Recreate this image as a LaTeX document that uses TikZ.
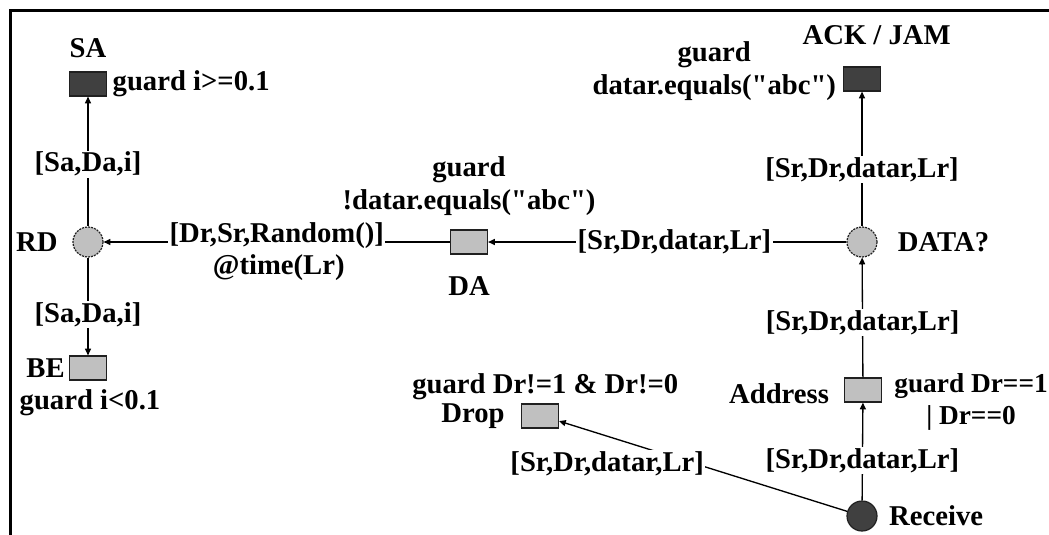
\documentclass[tikz,border=0pt]{standalone}
\usepackage{fontspec}
\newfontfamily\petrifont{Liberation Serif}
\usepackage{tikz}
\usetikzlibrary{positioning,arrows.meta}
\definecolor{petri-dark}{HTML}{404040}
\definecolor{petri-grey}{HTML}{C0C0C0}
\definecolor{petri-line}{HTML}{202020}

\begin{document}
\begin{tikzpicture}[
  x=0.75pt, y=-0.75pt,
  font=\petrifont\fontsize{21.5}{25}\selectfont\bfseries,
  every node/.style={align=center, inner sep=1pt},
  trans/.style={rectangle, draw=petri-line, line width=0.9pt, minimum width=27.75pt, minimum height=18pt, inner sep=0pt, fill=petri-grey},
  dtrans/.style={trans, fill=petri-dark},
  place/.style={circle, draw=petri-line, dash pattern=on 1.5pt off 0.8pt, line width=0.9pt, minimum size=22.5pt, inner sep=0pt, fill=petri-grey},
  dplace/.style={place, solid, fill=petri-dark},
  arc/.style={-{Triangle[length=5pt,width=4.5pt]}, line width=1pt, black},
  inscr/.style={fill=white, inner sep=1pt}
]
  \useasboundingbox (0,0) rectangle (1049,535);
  \draw[line width=2.25pt] (10,560) -- (10,11) -- (1070,11);

  \node[dtrans] (sa) at (88,84) {};
  \node (sa-lbl) at ([yshift=27pt]sa.center) {SA};
  \node[anchor=west] (sa-guard) at ([xshift=3pt]sa.east) {guard i>=0.1};

  \node[place] (rd) at (88,242) {};
  \node[left=10pt of rd] (rd-lbl) {RD};

  \node[trans] (be) at (88,368) {};
  \node[left=2pt of be] (be-lbl) {BE};
  \node (be-guard) at ([xshift=1.5pt,yshift=-26pt]be.center) {guard i<0.1};

  \node[trans] (da) at (469,242) {};
  \node[above=9pt of da] (da-guard) {guard\\!datar.equals("abc")};
  \node[below=15pt of da] (da-lbl) {DA};

  \node[place] (data) at (862,242) {};
  \node[right=14pt of data] (data-lbl) {DATA?};

  \node[dtrans] (ack) at (862,79) {};
  \node (ack-lbl) at ([xshift=11pt,yshift=33pt]ack.center) {ACK / JAM};
  \node[left=4pt of ack, yshift=6pt] (ack-guard) {guard\\datar.equals("abc")};

  \node[trans] (address) at (863,390) {};
  \node[left=10pt of address, yshift=-3pt] (address-lbl) {Address};
  \node[right=8pt of address, yshift=-9pt, font=\petrifont\fontsize{20.5}{24}\selectfont\bfseries] (address-guard) {guard Dr==1\\| Dr==0};

  \node[dplace] (receive) at (862,516) {};
  \node[right=7.5pt of receive] (receive-lbl) {Receive};

  \node[trans] (drop) at (540,416) {};
  \node[left=11pt of drop] (drop-lbl) {Drop};
  \node (drop-guard) at ([xshift=4pt,yshift=22pt]drop.center) {guard Dr!=1 \& Dr!=0};

  \draw[arc] (rd) -- (sa) node[inscr, pos=0.48] {[Sa,Da,i]};
  \draw[arc] (rd) -- (be) node[inscr, pos=0.58] {[Sa,Da,i]};
  \draw[arc] (da) -- (rd) node[inscr, midway, yshift=5pt] (rnd) {[Dr,Sr,Random()]};
  \node (rnd-time) at ([xshift=1.5pt,yshift=-24pt]rnd.center) {@time(Lr)};
  \draw[arc] (data) -- (da) node[inscr, pos=0.48] {[Sr,Dr,datar,Lr]};
  \draw[arc] (data) -- (ack) node[inscr, pos=0.42] {[Sr,Dr,datar,Lr]};
  \draw[arc] (address) -- (data) node[inscr, pos=0.46] {[Sr,Dr,datar,Lr]};
  \draw[arc] (receive) -- (address) node[inscr, pos=0.41] {[Sr,Dr,datar,Lr]};
  \draw[arc] (receive) -- (drop.-15) node[inscr, pos=0.49, anchor=east, yshift=2.5pt] {[Sr,Dr,datar,Lr]};
\end{tikzpicture}
\end{document}
